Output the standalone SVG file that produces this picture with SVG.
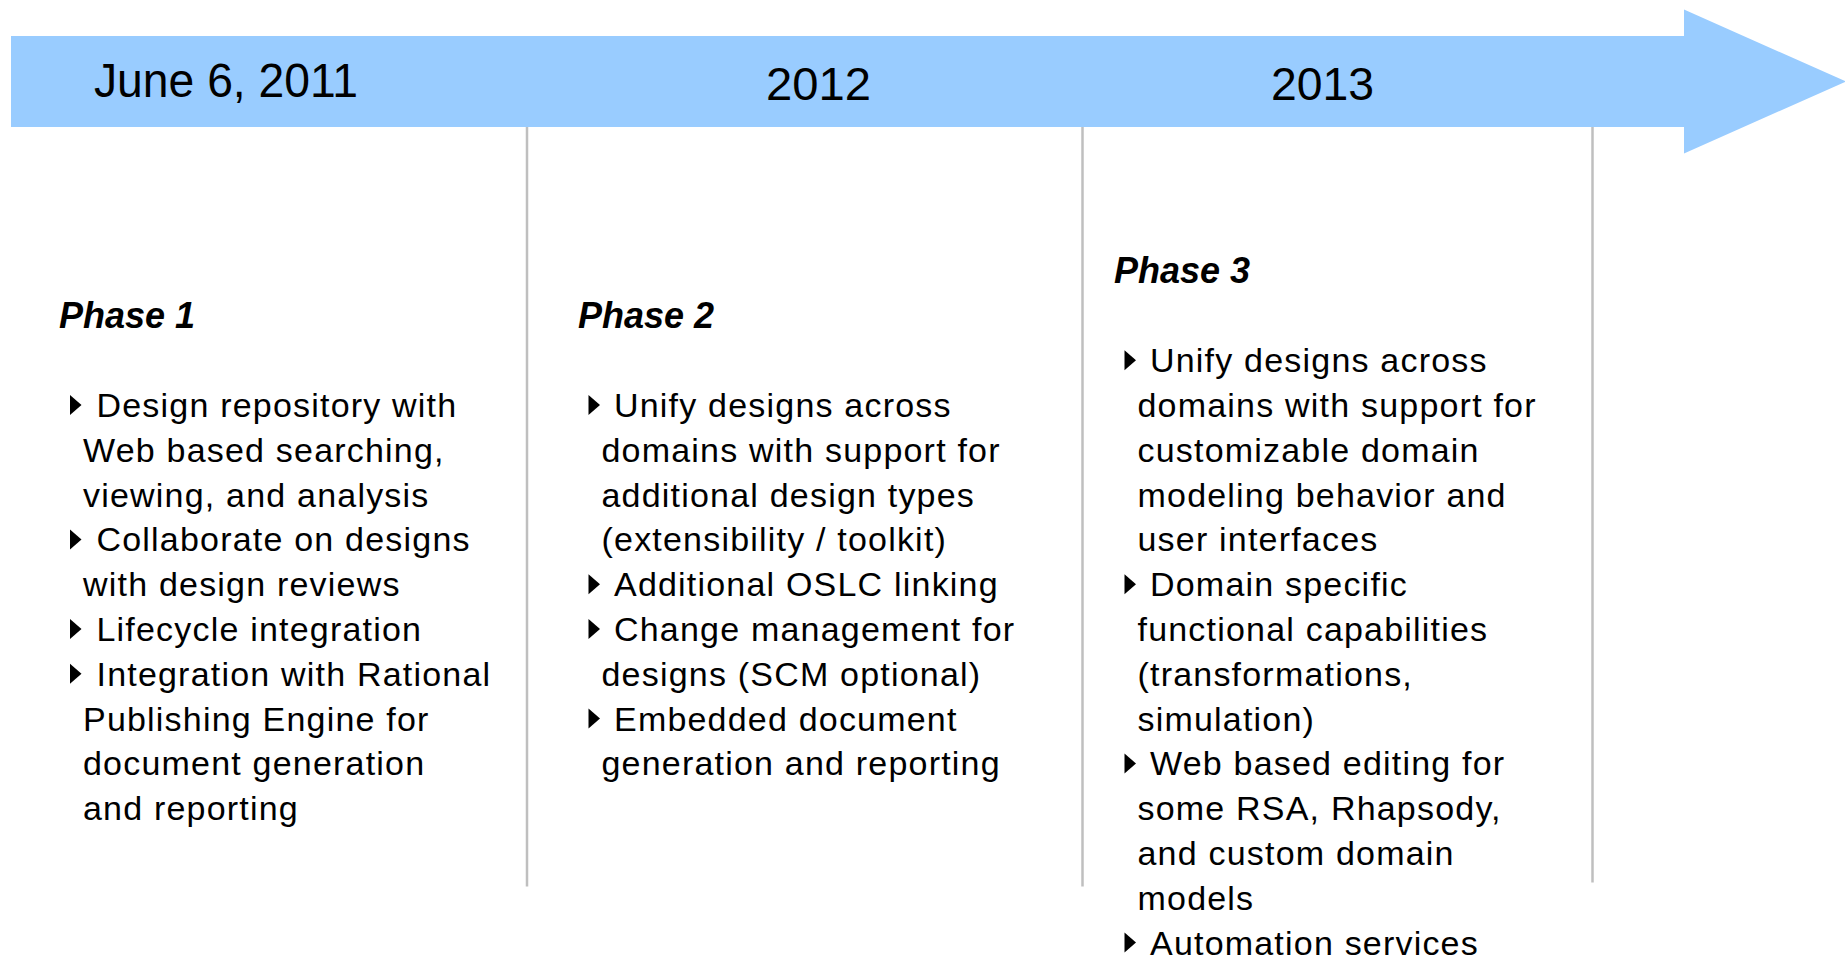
<svg xmlns="http://www.w3.org/2000/svg" xmlns:xlink="http://www.w3.org/1999/xlink" width="1845" height="960" viewBox="0 0 1845 960">
  <style>
    .yr { font-family: "Liberation Sans", Arial, Helvetica, sans-serif; fill: #000; }
    .ph { font-family: "Liberation Sans", Arial, Helvetica, sans-serif; font-weight: bold; font-style: italic; font-size: 36px; fill: #000; }
    .tx { font-family: "Liberation Sans", Arial, Helvetica, sans-serif; font-size: 34px; letter-spacing: 1.2px; fill: #000; }
    .div { stroke: #bfbfbf; stroke-width: 2.5; fill: none; }
  </style>
  <defs>
    <path id="bullet" d="M0,-22 L11.5,-12 L0,-2 Z" fill="#000"/>
  </defs>
  <rect width="1845" height="960" fill="#ffffff"/>

  <g id="timeline">
    <polygon points="11,36 1684,36 1684,9.5 1846,81.5 1684,153.5 1684,127 11,127" fill="#99ccff"/>
    <text class="yr" x="94" y="97" font-size="48" textLength="264" lengthAdjust="spacingAndGlyphs">June 6, 2011</text>
    <text class="yr" x="766" y="100" font-size="47" textLength="105" lengthAdjust="spacingAndGlyphs">2012</text>
    <text class="yr" x="1271" y="100" font-size="47" textLength="103" lengthAdjust="spacingAndGlyphs">2013</text>
  </g>

  <g id="connectors">
    <line class="div" x1="527" y1="127" x2="527" y2="886.5"/>
    <line class="div" x1="1082.5" y1="127" x2="1082.5" y2="886.5"/>
    <line class="div" x1="1592.5" y1="127" x2="1592.5" y2="882.5"/>
  </g>

  <g id="phase1">
    <text class="ph" x="59" y="327.5">Phase 1</text>
    <use href="#bullet" xlink:href="#bullet" x="70" y="417"/>
    <text class="tx" x="96.5" y="417">Design repository with</text>
    <text class="tx" x="83" y="461.8">Web based searching,</text>
    <text class="tx" x="83" y="506.6">viewing, and analysis</text>
    <use href="#bullet" xlink:href="#bullet" x="70" y="551.4"/>
    <text class="tx" x="96.5" y="551.4">Collaborate on designs</text>
    <text class="tx" x="83" y="596.2">with design reviews</text>
    <use href="#bullet" xlink:href="#bullet" x="70" y="641"/>
    <text class="tx" x="96.5" y="641">Lifecycle integration</text>
    <use href="#bullet" xlink:href="#bullet" x="70" y="685.8"/>
    <text class="tx" x="96.5" y="685.8">Integration with Rational</text>
    <text class="tx" x="83" y="730.6">Publishing Engine for</text>
    <text class="tx" x="83" y="775.4">document generation</text>
    <text class="tx" x="83" y="820.2">and reporting</text>
  </g>

  <g id="phase2">
    <text class="ph" x="578" y="327.5">Phase 2</text>
    <use href="#bullet" xlink:href="#bullet" x="588.5" y="417"/>
    <text class="tx" x="614" y="417">Unify designs across</text>
    <text class="tx" x="601.5" y="461.8">domains with support for</text>
    <text class="tx" x="601.5" y="506.6">additional design types</text>
    <text class="tx" x="601.5" y="551.4">(extensibility / toolkit)</text>
    <use href="#bullet" xlink:href="#bullet" x="588.5" y="596.2"/>
    <text class="tx" x="614" y="596.2">Additional OSLC linking</text>
    <use href="#bullet" xlink:href="#bullet" x="588.5" y="641"/>
    <text class="tx" x="614" y="641">Change management for</text>
    <text class="tx" x="601.5" y="685.8">designs (SCM optional)</text>
    <use href="#bullet" xlink:href="#bullet" x="588.5" y="730.6"/>
    <text class="tx" x="614" y="730.6">Embedded document</text>
    <text class="tx" x="601.5" y="775.4">generation and reporting</text>
  </g>

  <g id="phase3">
    <text class="ph" x="1114" y="282.5">Phase 3</text>
    <use href="#bullet" xlink:href="#bullet" x="1124.5" y="372.2"/>
    <text class="tx" x="1150" y="372.2">Unify designs across</text>
    <text class="tx" x="1137.5" y="417">domains with support for</text>
    <text class="tx" x="1137.5" y="461.8">customizable domain</text>
    <text class="tx" x="1137.5" y="506.6">modeling behavior and</text>
    <text class="tx" x="1137.5" y="551.4">user interfaces</text>
    <use href="#bullet" xlink:href="#bullet" x="1124.5" y="596.2"/>
    <text class="tx" x="1150" y="596.2">Domain specific</text>
    <text class="tx" x="1137.5" y="641">functional capabilities</text>
    <text class="tx" x="1137.5" y="685.8">(transformations,</text>
    <text class="tx" x="1137.5" y="730.6">simulation)</text>
    <use href="#bullet" xlink:href="#bullet" x="1124.5" y="775.4"/>
    <text class="tx" x="1150" y="775.4">Web based editing for</text>
    <text class="tx" x="1137.5" y="820.2">some RSA, Rhapsody,</text>
    <text class="tx" x="1137.5" y="865">and custom domain</text>
    <text class="tx" x="1137.5" y="909.8">models</text>
    <use href="#bullet" xlink:href="#bullet" x="1124.5" y="954.6"/>
    <text class="tx" x="1150" y="954.6">Automation services</text>
  </g>
</svg>
